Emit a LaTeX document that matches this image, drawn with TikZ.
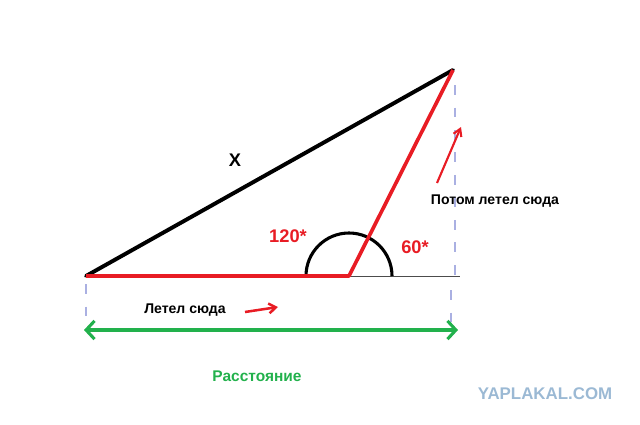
\documentclass[tikz,border=0pt]{standalone}
\usepackage{fontspec}
\setmainfont{Liberation Sans}
\usetikzlibrary{arrows.meta}

\definecolor{drawred}{RGB}{232,28,36}
\definecolor{drawgreen}{RGB}{34,177,76}
\definecolor{guideblue}{RGB}{170,176,226}
\definecolor{markgray}{RGB}{155,185,212}

\begin{document}
\begin{tikzpicture}[x=0.025cm, y=0.025cm,
  black side/.style={line width=2.8pt, line cap=round},
  red side/.style={line width=2.6pt, drawred, line join=round},
  guide/.style={line width=1.6pt, guideblue, dash pattern=on 7pt off 9pt},
  label text/.style={font=\bfseries\fontsize{10}{12}\selectfont},
  angle text/.style={font=\bfseries\fontsize{13}{15}\selectfont, text=drawred}]

  \useasboundingbox (0,0) rectangle (640,424);

  \coordinate (a) at (86,148);
  \coordinate (b) at (349,148);
  \coordinate (c) at (453,354);
  \coordinate (e) at (460,148);

  % guide lines
  \coordinate (g1) at (455,339);
  \coordinate (g2) at (455,148);
  \coordinate (g3) at (451,134);
  \coordinate (g4) at (451,100);
  \coordinate (g5) at (86,140);
  \coordinate (g6) at (86,100);
  \draw[guide] (g1) -- (g2);
  \draw[guide] (g3) -- (g4);
  \draw[guide] (g5) -- (g6);

  \draw[line width=0.6pt, black!70] (b) -- (e);
  \draw[line width=2.2pt] (b) ++(43,0) arc[start angle=0, end angle=180, radius=43];

  \draw[black side] (a) -- (c);
  \draw[red side] (a) -- (b) -- (c);

  \node[font=\bfseries\fontsize{13}{15}\selectfont] (x) at (235,264) {X};
  \node[angle text] (big) at (288,188) {120*};
  \node[angle text] (small) at (415,177) {60*};
  \node[label text] (then) at (495,223) {Потом летел сюда};
  \node[label text] (first) at (185,114) {Летел сюда};
  \node[font=\bfseries\fontsize{11}{13}\selectfont, text=drawgreen] (dist) at (257,48) {Расстояние};
  \node[font=\bfseries\fontsize{12}{14}\selectfont, text=markgray] (mark) at (545,30) {YAPLAKAL.COM};

  % small arrows
  \coordinate (r1) at (245,112);
  \coordinate (r2) at (278,117);
  \draw[drawred, line width=1.8pt, -{Straight Barb[length=5pt,width=7pt]}] (r1) -- (r2);
  \coordinate (u1) at (437,241);
  \coordinate (u2) at (461,297);
  \draw[drawred, line width=1.5pt, -{Straight Barb[length=5pt,width=6pt]}] (u1) -- (u2);

  % distance
  \coordinate (la) at (84,94);
  \coordinate (ra) at (458,94);
  \draw[drawgreen, line width=2.2pt, {Straight Barb[length=6pt,width=13pt]}-{Straight Barb[length=6pt,width=13pt]}] (la) -- (ra);

\end{tikzpicture}
\end{document}
